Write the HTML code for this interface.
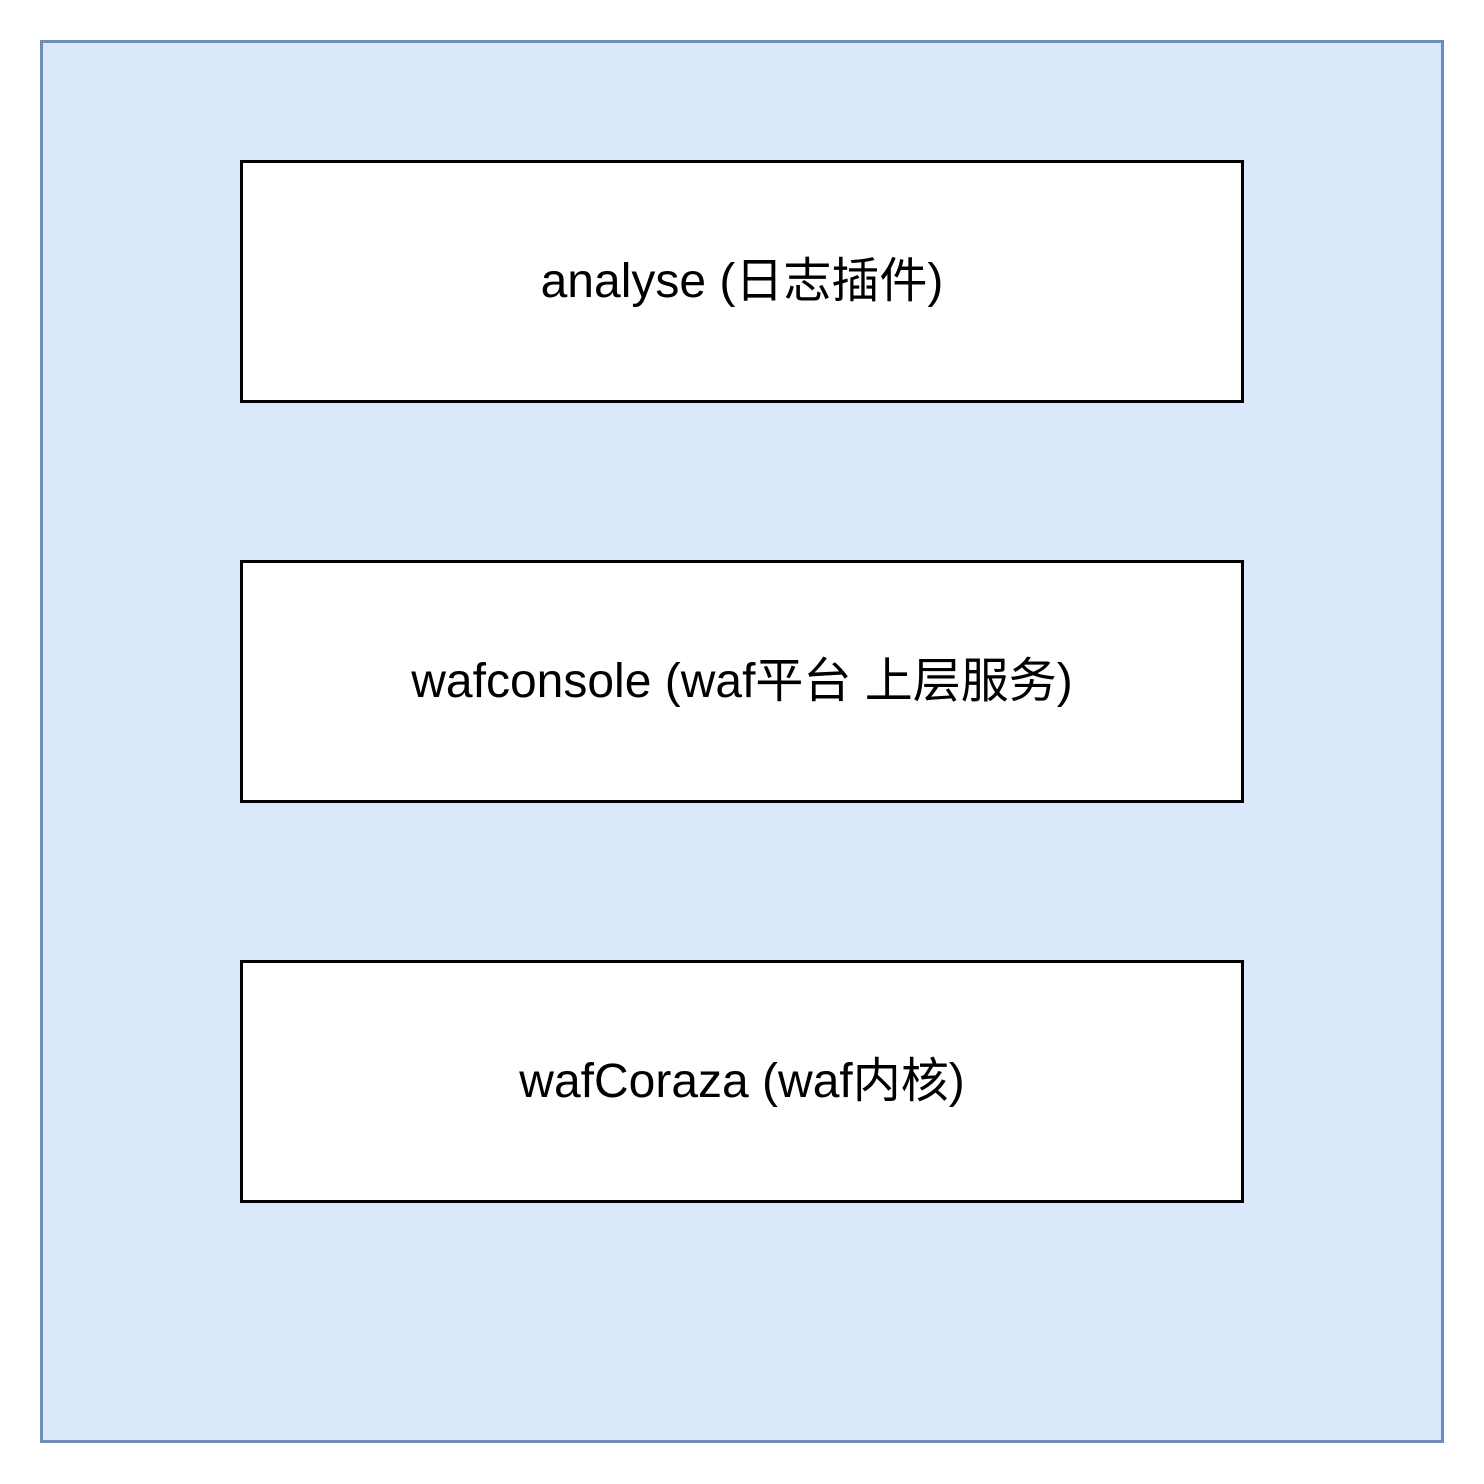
<!DOCTYPE html>
<html><head><meta charset="utf-8"><style>
html,body{margin:0;padding:0;background:#fff;}
body{width:1484px;height:1484px;position:relative;overflow:hidden;font-family:"Liberation Sans","Noto Sans CJK SC",sans-serif;}
.outer{position:absolute;left:40px;top:40px;width:1398px;height:1397px;background:#dae8fc;border:3px solid #6c8ebf;}
.box{position:absolute;left:240px;width:998px;height:237px;background:#fff;border:3px solid #000;display:flex;align-items:center;justify-content:center;font-size:48px;color:#000;line-height:1;}
</style></head><body>
<div class="outer"></div>
<div class="box" style="top:160px">analyse (日志插件)</div>
<div class="box" style="top:560px">wafconsole (waf平台 上层服务)</div>
<div class="box" style="top:960px">wafCoraza (waf内核)</div>
</body></html>
